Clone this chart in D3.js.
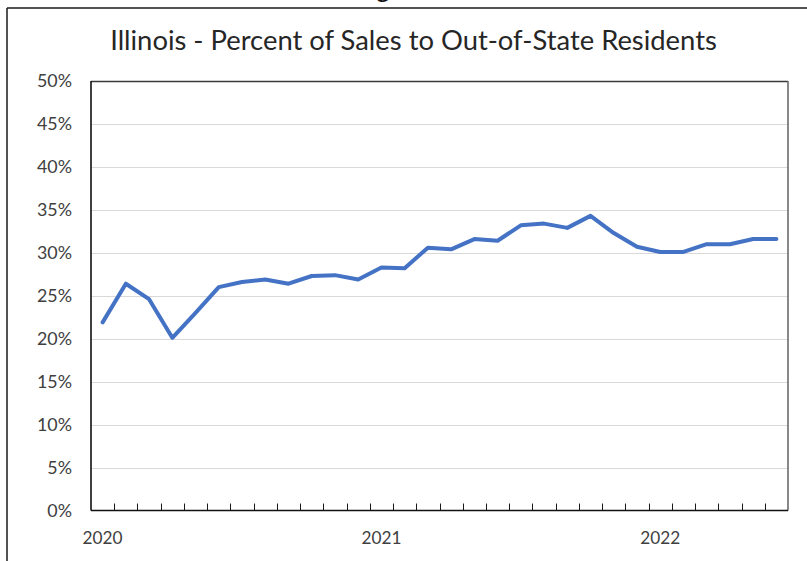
<!DOCTYPE html>
<html>
<head>
<meta charset="utf-8">
<script src="https://cdn.jsdelivr.net/npm/d3@7"></script>
<style>
  html, body { margin: 0; padding: 0; background: #fff; }
  svg { display: block; }
</style>
</head>
<body>
<svg id="chart" width="807" height="561"></svg>
<script>
// ---- data ----
const title = "Illinois - Percent of Sales to Out-of-State Residents";
const months = [
  "2020-01","2020-02","2020-03","2020-04","2020-05","2020-06","2020-07","2020-08","2020-09","2020-10","2020-11","2020-12",
  "2021-01","2021-02","2021-03","2021-04","2021-05","2021-06","2021-07","2021-08","2021-09","2021-10","2021-11","2021-12",
  "2022-01","2022-02","2022-03","2022-04","2022-05","2022-06"
];
const pctOutOfState = [
  0.219, 0.264, 0.246, 0.201, 0.230, 0.260, 0.266, 0.269, 0.264, 0.273, 0.274, 0.269,
  0.283, 0.282, 0.306, 0.304, 0.316, 0.314, 0.332, 0.334, 0.329, 0.343, 0.323, 0.307,
  0.301, 0.301, 0.310, 0.310, 0.316, 0.316
];
const yTickValues = [0, 0.05, 0.10, 0.15, 0.20, 0.25, 0.30, 0.35, 0.40, 0.45, 0.50];
const yearLabels = { "2020-01": "2020", "2021-01": "2021", "2022-01": "2022" };

// ---- layout ----
const FONT = "Lato, 'Noto Sans', sans-serif";
const plot = { left: 91, right: 788, top: 81, bottom: 510.5 };

const svg = d3.select("#chart");

// fit font size so text has a target width
function fitSize(text, targetWidth, weight) {
  const t = svg.append("text").attr("font-family", FONT).attr("font-size", 100)
    .attr("font-weight", weight || 400).text(text);
  const w = t.node().getComputedTextLength();
  t.remove();
  return 100 * targetWidth / w;
}

// outer frame (partial, cropped)
svg.append("line").attr("x1", 7).attr("x2", 807).attr("y1", 8).attr("y2", 8)
  .attr("stroke", "#1a1a1a").attr("stroke-width", 1.5);
svg.append("line").attr("x1", 7).attr("x2", 7).attr("y1", 8).attr("y2", 561)
  .attr("stroke", "#1a1a1a").attr("stroke-width", 1.5);
// cropped glyph above the frame
svg.append("text").attr("x", 383).attr("y", -3).attr("text-anchor", "middle")
  .attr("font-family", FONT).attr("font-size", 26).attr("fill", "#111").text("g");

// scales
const x = d3.scaleBand().domain(months).range([plot.left, plot.right]).padding(0);
const y = d3.scaleLinear().domain([0, 0.5]).range([plot.bottom, plot.top]);

// gridlines
svg.append("g").selectAll("line").data(yTickValues.filter(v => v > 0 && v < 0.5)).join("line")
  .attr("x1", plot.left).attr("x2", plot.right)
  .attr("y1", d => Math.round(y(d)) + 0.5).attr("y2", d => Math.round(y(d)) + 0.5)
  .attr("stroke", "#d9d9d9").attr("stroke-width", 1);

// y axis labels
const ySize = fitSize("50%", 35);
const yAxis = d3.axisLeft(y).tickValues(yTickValues).tickFormat(d3.format(".0%")).tickSize(0).tickPadding(19);
const gy = svg.append("g").attr("transform", `translate(${plot.left},0)`).call(yAxis);
gy.select(".domain").remove();
gy.selectAll("text").attr("font-family", FONT).attr("font-size", ySize).attr("fill", "#404040");

// x axis: ticks at category boundaries, pointing inward
const gx = svg.append("g");
gx.selectAll("line.tick").data(months.slice(1)).join("line")
  .attr("class", "tick")
  .attr("x1", d => Math.round(x(d)) + 0.5).attr("x2", d => Math.round(x(d)) + 0.5)
  .attr("y1", plot.bottom).attr("y2", plot.bottom - 7)
  .attr("stroke", "#1a1a1a").attr("stroke-width", 1);
const xSize = fitSize("2020", 40);
gx.selectAll("text").data(months.filter(m => yearLabels[m])).join("text")
  .attr("x", d => x(d) + x.bandwidth() / 2)
  .attr("y", 544)
  .attr("text-anchor", "middle")
  .attr("font-family", FONT).attr("font-size", xSize).attr("fill", "#404040")
  .text(d => yearLabels[d]);

// plot frame
svg.append("line").attr("x1", plot.left).attr("x2", plot.right).attr("y1", plot.top + 0.5).attr("y2", plot.top + 0.5)
  .attr("stroke", "#3a3a3a").attr("stroke-width", 1.3);
svg.append("line").attr("x1", plot.right).attr("x2", plot.right).attr("y1", plot.top).attr("y2", plot.bottom)
  .attr("stroke", "#6b6b6b").attr("stroke-width", 1.6);
svg.append("line").attr("x1", plot.left).attr("x2", plot.left).attr("y1", plot.top).attr("y2", plot.bottom)
  .attr("stroke", "#111").attr("stroke-width", 1.6);
svg.append("line").attr("x1", plot.left).attr("x2", plot.right).attr("y1", plot.bottom).attr("y2", plot.bottom)
  .attr("stroke", "#111").attr("stroke-width", 1.6);

// data line
const line = d3.line()
  .x((d, i) => x(months[i]) + x.bandwidth() / 2)
  .y(d => y(d));
svg.append("path").datum(pctOutOfState)
  .attr("d", line)
  .attr("fill", "none")
  .attr("stroke", "#4472c4")
  .attr("stroke-width", 4)
  .attr("stroke-linejoin", "round")
  .attr("stroke-linecap", "round");

// title
const tSize = fitSize(title, 607);
svg.append("text").attr("x", 413.5).attr("y", 50).attr("text-anchor", "middle")
  .attr("font-family", FONT).attr("font-size", tSize).attr("fill", "#262626")
  .text(title);
</script>
</body>
</html>
